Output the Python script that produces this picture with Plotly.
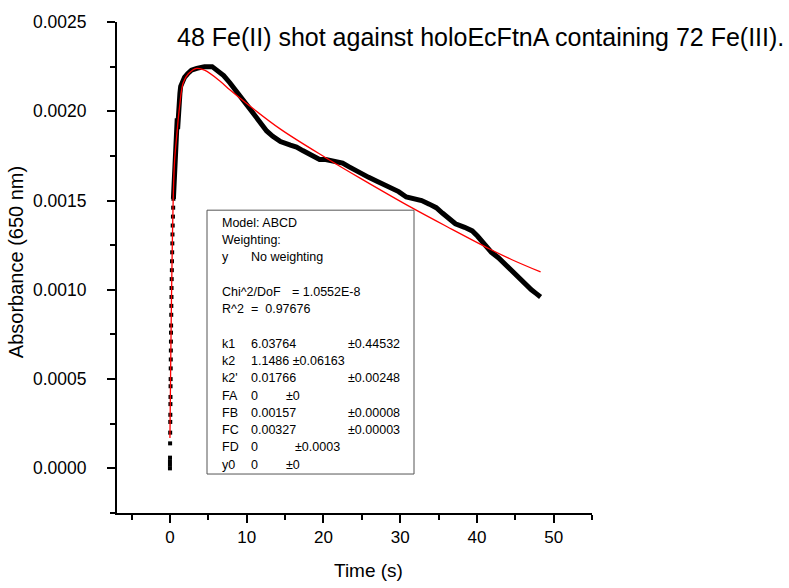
import plotly.graph_objects as go

# ---------------- data ----------------
# earliest points (drawn as separate dots, t ~ 0 .. 0.45 s)
t_early = [0.00, 0.00, 0.00, 0.01, 0.02, 0.03, 0.04, 0.05, 0.06, 0.07, 0.08, 0.09,
           0.10, 0.11, 0.12, 0.13, 0.14, 0.15, 0.17, 0.18, 0.20, 0.21, 0.23, 0.25,
           0.27, 0.29, 0.31, 0.33, 0.36, 0.39, 0.42, 0.45]
a_early = [0.00000, 0.00002, 0.00004, 0.00006, 0.00014, 0.00020, 0.00026, 0.00030,
           0.00036, 0.00040, 0.00046, 0.00050, 0.00056, 0.00061, 0.00066, 0.00071,
           0.00076, 0.00080, 0.00086, 0.00091, 0.00096, 0.00101, 0.00106, 0.00111,
           0.00116, 0.00121, 0.00126, 0.00131, 0.00136, 0.00141, 0.00146, 0.00151]

# dense measured trace (drawn as a thick line)
t_data = [0.45, 0.55, 0.65, 0.75, 0.85, 0.95, 1.0, 1.1, 1.2, 1.3, 1.4, 1.6, 1.9, 2.3,
          2.8, 3.5, 4.5, 5.5, 6.2, 7.0, 7.8, 8.5, 9.3, 10.2, 11.0, 11.8, 12.6,
          13.4, 14.4, 15.7, 16.5, 17.3, 18.6, 19.5, 20.3, 21.6, 22.5, 23.3, 24.1,
          24.9, 25.9, 26.9, 27.9, 28.8, 29.8, 30.8, 31.8, 32.8, 33.8, 34.7, 35.5,
          36.3, 37.2, 38.4, 39.4, 40.1, 41.0, 41.9, 42.8, 43.5, 44.2, 44.9, 45.5,
          46.3, 47.1, 47.7, 48.3]
a_data = [0.00151, 0.00162, 0.00172, 0.00178, 0.00188, 0.00196, 0.00190, 0.00203,
          0.00198, 0.00210, 0.00214, 0.00217, 0.00219, 0.00221, 0.00223, 0.00224,
          0.00225, 0.00225, 0.00223, 0.00220, 0.00216, 0.00212, 0.00207, 0.00202,
          0.00197, 0.00193, 0.00189, 0.00186, 0.00183, 0.00181, 0.00180, 0.00178,
          0.00175, 0.00173, 0.00173, 0.00172, 0.00171, 0.00169, 0.00167,
          0.00165, 0.00163, 0.00161, 0.00159, 0.00157, 0.00155, 0.00152, 0.00151,
          0.00150, 0.00148, 0.00146, 0.00143, 0.00140, 0.00137, 0.00135, 0.00133,
          0.00130, 0.00125, 0.00121, 0.00118, 0.00115, 0.00112, 0.00109, 0.00106,
          0.00103, 0.00100, 0.00098, 0.00096]

# fitted curve (red)
t_fit = [0.0, 0.1, 0.2, 0.3, 0.42, 0.6, 0.92, 1.24, 1.73, 2.4, 3.5, 4.5, 6.5, 7.8,
         9.8, 14.4, 20.3, 25.0, 31.5, 36.7, 41.6, 44.5, 48.3]
a_fit = [0.00017, 0.00060, 0.00095, 0.00123, 0.00150, 0.00172, 0.00188, 0.00202,
         0.00216, 0.00221, 0.00224, 0.00223, 0.00217, 0.00212, 0.00205, 0.00190,
         0.00174, 0.00162, 0.00146, 0.00134, 0.00123, 0.00117, 0.00110]

x_tickvals = [0, 10, 20, 30, 40, 50]
y_tickvals = [0.0, 0.0005, 0.0010, 0.0015, 0.0020, 0.0025]
y_ticktext = ["0.0000", "0.0005", "0.0010", "0.0015", "0.0020", "0.0025"]

title_text = "48 Fe(II) shot against holoEcFtnA containing 72 Fe(III)."
x_title = "Time (s)"
y_title = "Absorbance (650 nm)"

# fit report box
report_header = ["Model: ABCD", "Weighting:"]
weight_row = ["y", "No weighting"]
chi_row = ["Chi^2/DoF", "= 1.0552E-8"]
r2_row = ["R^2", "=  0.97676"]
param_names = ["k1", "k2", "k2'", "FA", "FB", "FC", "FD", "y0"]
param_values = ["6.03764", "1.1486", "0.01766", "0", "0.00157", "0.00327", "0", "0"]
param_errors = ["±0.44532", "±0.06163", "±0.00248", "±0", "±0.00008", "±0.00003",
                "±0.0003", "±0"]
error_col = ["far", "near", "far", "near", "far", "far", "mid", "near"]

# ---------------- figure ----------------
FONT = "Liberation Sans, Arial, sans-serif"
W, H = 789, 588
L, R, T, B = 117, 592, 21.7, 513


def px(xp):
    return (xp - L) / (R - L)


def py(yp):
    return (B - yp) / (B - T)


fig = go.Figure()
fig.add_trace(go.Scatter(x=t_early, y=a_early, mode="markers",
                         marker=dict(symbol="square", size=4, color="black"),
                         showlegend=False, hoverinfo="skip"))
fig.add_trace(go.Scatter(x=t_data, y=a_data, mode="lines",
                         line=dict(color="black", width=5),
                         showlegend=False))
fig.add_trace(go.Scatter(x=t_fit, y=a_fit, mode="lines",
                         line=dict(color="#ff0000", width=1.3, shape="spline"),
                         showlegend=False))

axis_common = dict(showline=True, linecolor="black", linewidth=2, mirror=False,
                   showgrid=False, zeroline=False, ticks="outside",
                   tickcolor="black", tickwidth=1.5, ticklen=8)

fig.update_xaxes(range=[-6.9, 55], tickvals=x_tickvals,
                 tickfont=dict(family=FONT, size=17, color="black"),
                 minor=dict(dtick=5, tick0=0, ticks="outside", ticklen=5,
                            tickcolor="black", tickwidth=1.5),
                 **axis_common)
fig.update_yaxes(range=[-0.00025, 0.0025], tickvals=y_tickvals, ticktext=y_ticktext,
                 tickfont=dict(family=FONT, size=17.5, color="black"),
                 ticklabelstandoff=17,
                 minor=dict(dtick=0.00025, tick0=0, ticks="outside", ticklen=5,
                            tickcolor="black", tickwidth=1.5),
                 **axis_common)

ann = []
ann.append(dict(text=title_text, x=px(786), y=py(37), xref="paper", yref="paper",
                xanchor="right", yanchor="middle", showarrow=False,
                font=dict(family=FONT, size=25, color="black")))
ann.append(dict(text=x_title, x=px(368), y=py(571), xref="paper", yref="paper",
                xanchor="center", yanchor="middle", showarrow=False,
                font=dict(family=FONT, size=19, color="black")))
ann.append(dict(text=y_title, x=px(16), y=py(262), xref="paper", yref="paper",
                xanchor="center", yanchor="middle", showarrow=False, textangle=-90,
                font=dict(family=FONT, size=20, color="black")))

# report box
box_l, box_r, box_t, box_b = 207, 414, 210, 474
fig.add_shape(type="rect", xref="paper", yref="paper",
              x0=px(box_l), x1=px(box_r), y0=py(box_b), y1=py(box_t),
              line=dict(color="#555555", width=1), fillcolor="white", layer="above")

col_lab, col_val = 220, 249
col_err = {"far": 346, "near": 284, "mid": 293}
row_h = 17.3
bf = dict(family=FONT, size=12.5, color="black")


def put(text, xp, yp):
    ann.append(dict(text=text, x=px(xp), y=py(yp), xref="paper", yref="paper",
                    xanchor="left", yanchor="middle", showarrow=False, font=bf))


y0r = 222.5
put(report_header[0], col_lab, y0r)
put(report_header[1], col_lab, y0r + row_h)
put(weight_row[0], col_lab, y0r + 2 * row_h)
put(weight_row[1], col_val, y0r + 2 * row_h)
put(chi_row[0], col_lab, y0r + 4 * row_h)
put(chi_row[1], 290, y0r + 4 * row_h)
put(r2_row[0], col_lab, y0r + 5 * row_h)
put(r2_row[1], col_val, y0r + 5 * row_h)
for i, (n, v, e, c) in enumerate(zip(param_names, param_values, param_errors, error_col)):
    yy = y0r + (7 + i) * row_h
    put(n, col_lab, yy)
    if n == "k2":
        put(v + " " + e, col_val, yy)
    else:
        put(v, col_val, yy)
        put(e, col_err[c], yy)

fig.update_layout(width=W, height=H, margin=dict(l=L, r=W - R, t=T, b=H - B),
                  plot_bgcolor="white", paper_bgcolor="white",
                  annotations=ann, showlegend=False)

fig.write_html("out.html")
